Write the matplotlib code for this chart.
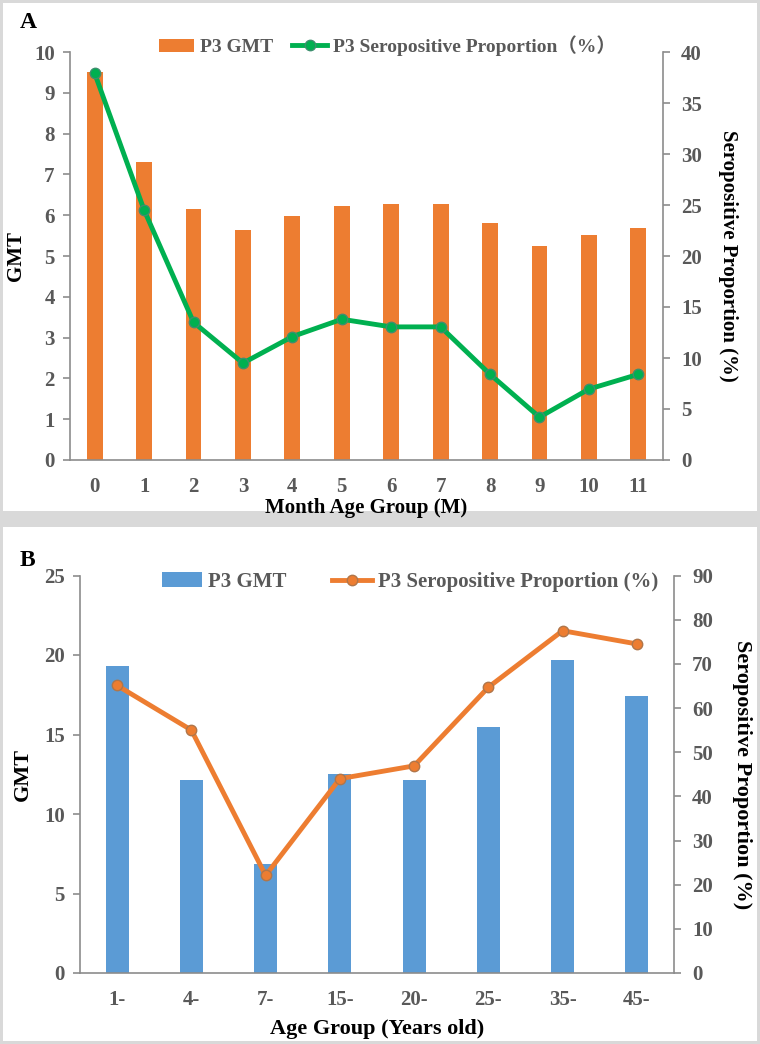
import matplotlib
matplotlib.use("Agg")
import matplotlib.pyplot as plt
from matplotlib.patches import Rectangle

# panel A data
months = ["0", "1", "2", "3", "4", "5", "6", "7", "8", "9", "10", "11"]
gmt_a = [9.5, 7.3, 6.16, 5.64, 5.98, 6.23, 6.28, 6.28, 5.8, 5.25, 5.52, 5.69]
sero_a = [37.9, 24.5, 13.5, 9.5, 12.1, 13.8, 13.05, 13.05, 8.4, 4.2, 6.95, 8.4]

# panel B data
age_groups = ["1-", "4-", "7-", "15-", "20-", "25-", "35-", "45-"]
gmt_b = [19.3, 12.15, 6.87, 12.53, 12.15, 15.49, 19.68, 17.45]
sero_b = [65.1, 55.0, 22.1, 44.0, 46.9, 64.7, 77.5, 74.5]

ORANGE = "#ED7D31"
GREEN = "#00B050"
BLUE = "#5B9BD5"
TICK = "#595959"
SPINE = "#8c8c8c"
FONT = ["Liberation Serif", "Noto Sans CJK SC"]

plt.rcParams["font.family"] = FONT
plt.rcParams["font.weight"] = "bold"

fig = plt.figure(figsize=(7.6, 10.44), dpi=100)
fig.patch.set_facecolor("#d9d9d9")
# white panel backgrounds
fig.patches.append(Rectangle((3 / 760, 1 - 511 / 1044), 754 / 760, 508 / 1044,
                             transform=fig.transFigure, facecolor="white", zorder=-1))
fig.patches.append(Rectangle((3 / 760, 3 / 1044), 754 / 760, 514 / 1044,
                             transform=fig.transFigure, facecolor="white", zorder=-1))


def style(ax, ax2, size):
    for a in (ax, ax2):
        a.spines["top"].set_visible(False)
        for s in ("left", "right", "bottom"):
            a.spines[s].set_color(SPINE)
            a.spines[s].set_linewidth(1.2)
        a.set_facecolor("none")
    ax.spines["right"].set_visible(False)
    ax2.spines["left"].set_visible(False)
    ax2.spines["bottom"].set_visible(False)
    ax.tick_params(axis="y", colors=SPINE, labelcolor=TICK, labelsize=size, length=5, width=1.2, pad=6)
    ax.tick_params(axis="x", length=0, labelcolor=TICK, labelsize=size, pad=12)
    ax2.tick_params(axis="y", colors=SPINE, labelcolor=TICK, labelsize=size, length=5, width=1.2, pad=8)


# ---- panel A ----
ax1 = fig.add_axes([70 / 760, 1 - 460 / 1044, 593 / 760, 408 / 1044])
ax1b = ax1.twinx()
x = range(len(months))
b1 = ax1.bar(x, gmt_a, width=0.32, color=ORANGE, label="P3 GMT")
l1, = ax1b.plot(x, sero_a, color=GREEN, lw=3.5, marker="o", ms=7.5,
                markeredgecolor="#3d8f6e", markeredgewidth=1, label="P3 Seropositive Proportion（%）")
ax1.set_xlim(-0.5, 11.5)
ax1.set_ylim(0, 10)
ax1.set_yticks(range(0, 11))
ax1b.set_ylim(0, 40)
ax1b.set_yticks(range(0, 41, 5))
ax1.set_xticks(list(x))
ax1.set_xticklabels(months)
style(ax1, ax1b, 15)
ax1.set_xlabel("Month Age Group (M)", fontsize=15, fontweight="bold", labelpad=1)
ax1.set_ylabel("GMT", fontsize=15, fontweight="bold", labelpad=6)
ax1b.set_ylabel("Seropositive Proportion (%)", fontsize=15, fontweight="bold",
                rotation=-90, labelpad=26)
leg = ax1.legend([b1, l1], [b1.get_label(), l1.get_label()], loc="center",
                 bbox_to_anchor=(0.535, 1.015), ncol=2, frameon=False, fontsize=14,
                 handlelength=1.8, handletextpad=0.3, columnspacing=1.0)
for t in leg.get_texts():
    t.set_color(TICK)
fig.text(20 / 760, 1 - 22 / 1044, "A", fontsize=17, fontweight="bold", va="center")

# ---- panel B ----
ax2 = fig.add_axes([80 / 760, 1 - 973 / 1044, 594 / 760, 397.5 / 1044])
ax2b = ax2.twinx()
x2 = range(len(age_groups))
b2 = ax2.bar(x2, gmt_b, width=0.31, color=BLUE, label="P3 GMT")
l2, = ax2b.plot(x2, sero_b, color=ORANGE, lw=3.5, marker="o", ms=7.5,
                markeredgecolor="#b0764a", markeredgewidth=1, label="P3 Seropositive Proportion (%)")
ax2.set_xlim(-0.5, 7.5)
ax2.set_ylim(0, 25)
ax2.set_yticks(range(0, 26, 5))
ax2b.set_ylim(0, 90)
ax2b.set_yticks(range(0, 91, 10))
ax2.set_xticks(list(x2))
ax2.set_xticklabels(age_groups)
style(ax2, ax2b, 15)
ax2.set_xlabel("Age Group (Years old)", fontsize=16, fontweight="bold", labelpad=7)
ax2.set_ylabel("GMT", fontsize=16, fontweight="bold", labelpad=8)
ax2b.set_ylabel("Seropositive Proportion (%)", fontsize=16, fontweight="bold",
                rotation=-90, labelpad=28)
leg2 = ax2.legend([b2, l2], [b2.get_label(), l2.get_label()], loc="center",
                  bbox_to_anchor=(0.556, 0.984), ncol=2, frameon=False, fontsize=15,
                  handlelength=1.9, handletextpad=0.3, columnspacing=2.2)
for t in leg2.get_texts():
    t.set_color(TICK)
fig.text(20 / 760, 1 - 560 / 1044, "B", fontsize=17, fontweight="bold", va="center")

fig.savefig("out.png", dpi=100, facecolor=fig.get_facecolor())
